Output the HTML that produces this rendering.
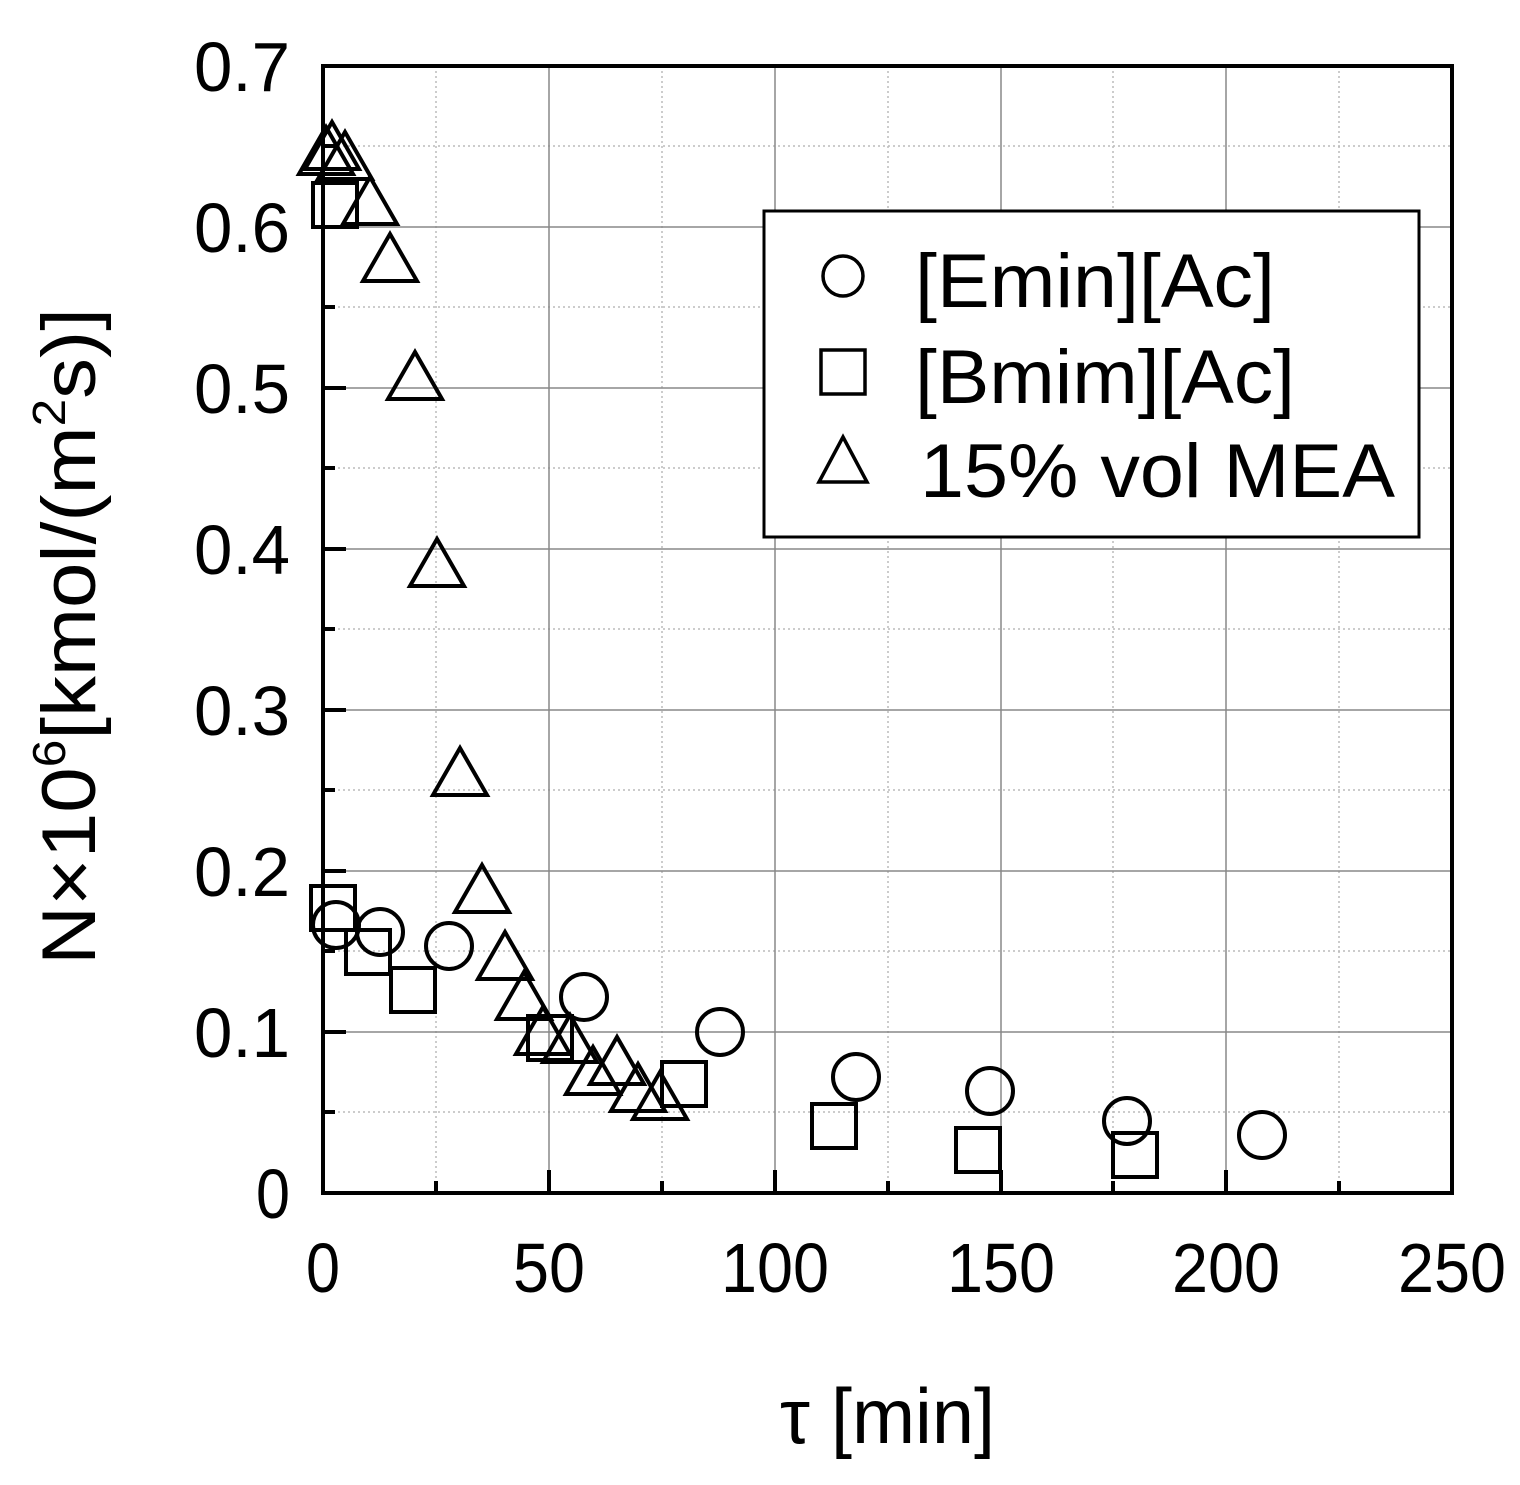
<!DOCTYPE html>
<html><head><meta charset="utf-8"><style>
body{margin:0;background:#fff}
svg{display:block}
text{font-family:"Liberation Sans Narrow","Liberation Sans",sans-serif;fill:#000}
</style></head><body>
<svg width="1520" height="1485" viewBox="0 0 1520 1485" xmlns="http://www.w3.org/2000/svg">
<defs>
<g id="c"><circle r="23" fill="none" stroke="#000" stroke-width="4"/></g>
<g id="s"><rect x="-22" y="-22" width="44" height="44" fill="none" stroke="#000" stroke-width="4"/></g>
<g id="t"><polygon points="0,-28 27,19 -27,19" fill="none" stroke="#000" stroke-width="4"/></g>
</defs>
<g stroke="#bbb" stroke-width="1.5" stroke-dasharray="2,3">
<line x1="436" y1="66" x2="436" y2="1193"/><line x1="662" y1="66" x2="662" y2="1193"/>
<line x1="888" y1="66" x2="888" y2="1193"/><line x1="1113" y1="66" x2="1113" y2="1193"/>
<line x1="1339" y1="66" x2="1339" y2="1193"/>
<line x1="323" y1="1112" x2="1452" y2="1112"/><line x1="323" y1="951" x2="1452" y2="951"/>
<line x1="323" y1="790" x2="1452" y2="790"/><line x1="323" y1="629" x2="1452" y2="629"/>
<line x1="323" y1="468" x2="1452" y2="468"/><line x1="323" y1="307" x2="1452" y2="307"/>
<line x1="323" y1="146" x2="1452" y2="146"/>
</g>
<g stroke="#888" stroke-width="1.5">
<line x1="549" y1="66" x2="549" y2="1193"/><line x1="775" y1="66" x2="775" y2="1193"/>
<line x1="1001" y1="66" x2="1001" y2="1193"/><line x1="1226" y1="66" x2="1226" y2="1193"/>
<line x1="323" y1="1032" x2="1452" y2="1032"/><line x1="323" y1="871" x2="1452" y2="871"/>
<line x1="323" y1="710" x2="1452" y2="710"/><line x1="323" y1="549" x2="1452" y2="549"/>
<line x1="323" y1="388" x2="1452" y2="388"/><line x1="323" y1="227" x2="1452" y2="227"/>
</g>
<g stroke="#000" stroke-width="4">
<line x1="549" y1="1193" x2="549" y2="1170"/><line x1="775" y1="1193" x2="775" y2="1170"/>
<line x1="1001" y1="1193" x2="1001" y2="1170"/><line x1="1226" y1="1193" x2="1226" y2="1170"/>
<line x1="436" y1="1193" x2="436" y2="1181"/><line x1="662" y1="1193" x2="662" y2="1181"/>
<line x1="888" y1="1193" x2="888" y2="1181"/><line x1="1113" y1="1193" x2="1113" y2="1181"/>
<line x1="1339" y1="1193" x2="1339" y2="1181"/>
<line x1="323" y1="1032" x2="346" y2="1032"/><line x1="323" y1="871" x2="346" y2="871"/>
<line x1="323" y1="710" x2="346" y2="710"/><line x1="323" y1="549" x2="346" y2="549"/>
<line x1="323" y1="388" x2="346" y2="388"/><line x1="323" y1="227" x2="346" y2="227"/>
<line x1="323" y1="66" x2="346" y2="66"/>
<line x1="323" y1="1112" x2="335" y2="1112"/><line x1="323" y1="951" x2="335" y2="951"/>
<line x1="323" y1="790" x2="335" y2="790"/><line x1="323" y1="629" x2="335" y2="629"/>
<line x1="323" y1="468" x2="335" y2="468"/><line x1="323" y1="307" x2="335" y2="307"/>
<line x1="323" y1="146" x2="335" y2="146"/>
</g>
<rect x="323" y="66" width="1129" height="1127" fill="none" stroke="#000" stroke-width="4"/>
<use href="#c" x="336" y="925"/><use href="#c" x="380" y="932"/><use href="#c" x="449" y="946"/>
<use href="#c" x="584" y="997"/><use href="#c" x="720" y="1032"/><use href="#c" x="856" y="1077"/>
<use href="#c" x="990" y="1091"/><use href="#c" x="1127" y="1121"/><use href="#c" x="1262" y="1135"/>
<use href="#s" x="333" y="908"/><use href="#s" x="335" y="205"/><use href="#s" x="368" y="952"/>
<use href="#s" x="413" y="990"/><use href="#s" x="550" y="1038"/><use href="#s" x="684" y="1084"/>
<use href="#s" x="834" y="1126"/><use href="#s" x="978" y="1150"/><use href="#s" x="1135" y="1155"/>
<use href="#t" x="326" y="155"/><use href="#t" x="332" y="150"/><use href="#t" x="345" y="160"/>
<use href="#t" x="370" y="205"/><use href="#t" x="390" y="262"/><use href="#t" x="415" y="380"/>
<use href="#t" x="437" y="567"/><use href="#t" x="460" y="776"/><use href="#t" x="482" y="893"/>
<use href="#t" x="505" y="960"/><use href="#t" x="524" y="1000"/><use href="#t" x="543" y="1035"/>
<use href="#t" x="570" y="1043"/><use href="#t" x="593" y="1075"/><use href="#t" x="617" y="1065"/>
<use href="#t" x="638" y="1092"/><use href="#t" x="660" y="1100"/>
<rect x="764" y="211" width="655" height="326" fill="#fff" stroke="#000" stroke-width="3"/>
<circle cx="843" cy="276" r="20" fill="none" stroke="#000" stroke-width="3.5"/>
<rect x="821" y="350" width="44" height="44" fill="none" stroke="#000" stroke-width="3.5"/>
<polygon points="843,437 867,482 819,482" fill="none" stroke="#000" stroke-width="3.5"/>
<text x="915" y="307" font-size="76" textLength="360" lengthAdjust="spacingAndGlyphs">[Emin][Ac]</text>
<text x="915" y="403" font-size="76" textLength="380" lengthAdjust="spacingAndGlyphs">[Bmim][Ac]</text>
<text x="920" y="497" font-size="76" textLength="475" lengthAdjust="spacingAndGlyphs">15% vol MEA</text>
<g font-size="70" text-anchor="end" lengthAdjust="spacingAndGlyphs">
<text x="290" y="1218" textLength="34" lengthAdjust="spacingAndGlyphs">0</text>
<text x="290" y="1057" textLength="96" lengthAdjust="spacingAndGlyphs">0.1</text><text x="290" y="896" textLength="96" lengthAdjust="spacingAndGlyphs">0.2</text>
<text x="290" y="735" textLength="96" lengthAdjust="spacingAndGlyphs">0.3</text><text x="290" y="574" textLength="96" lengthAdjust="spacingAndGlyphs">0.4</text>
<text x="290" y="413" textLength="96" lengthAdjust="spacingAndGlyphs">0.5</text><text x="290" y="252" textLength="96" lengthAdjust="spacingAndGlyphs">0.6</text>
<text x="290" y="91" textLength="96" lengthAdjust="spacingAndGlyphs">0.7</text>
</g>
<g font-size="70" text-anchor="middle">
<text x="323" y="1292" textLength="34" lengthAdjust="spacingAndGlyphs">0</text><text x="549" y="1292" textLength="72" lengthAdjust="spacingAndGlyphs">50</text>
<text x="775" y="1292" textLength="108" lengthAdjust="spacingAndGlyphs">100</text><text x="1001" y="1292" textLength="108" lengthAdjust="spacingAndGlyphs">150</text>
<text x="1226" y="1292" textLength="108" lengthAdjust="spacingAndGlyphs">200</text><text x="1452" y="1292" textLength="108" lengthAdjust="spacingAndGlyphs">250</text>
</g>
<text x="780" y="1443" font-size="78" textLength="215" lengthAdjust="spacingAndGlyphs">τ [min]</text>
<text transform="translate(95,965) rotate(-90)" font-size="76" textLength="657" lengthAdjust="spacingAndGlyphs">N×10<tspan dy="-30" font-size="46">6</tspan><tspan dy="30">[kmol/(m</tspan><tspan dy="-30" font-size="46">2</tspan><tspan dy="30">s)]</tspan></text>
</svg>
</body></html>
